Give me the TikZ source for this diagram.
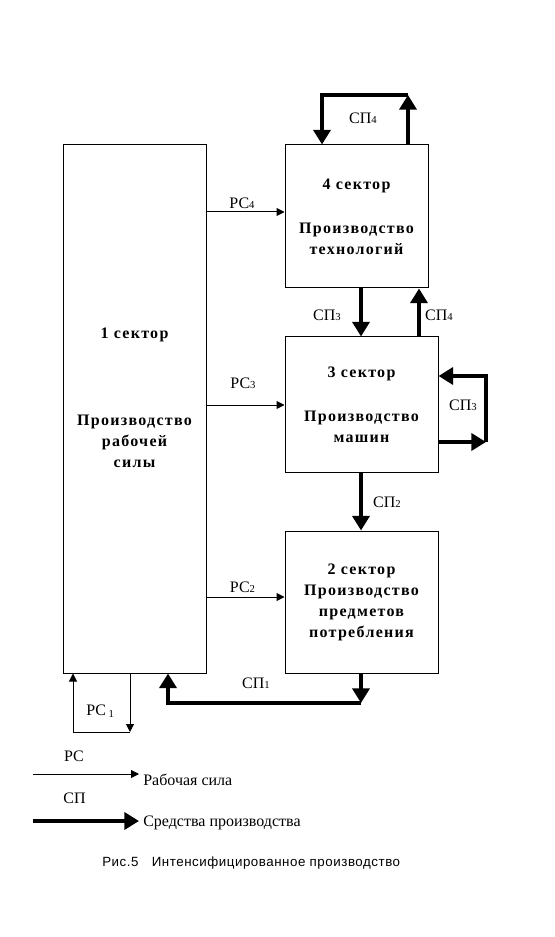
\documentclass[tikz,border=0pt]{standalone}
\usepackage{fontspec}
\setmainfont{Liberation Serif}
\newfontfamily\boldwide{Liberation Serif}[LetterSpace=8]
\newfontfamily\capfont{Liberation Sans}[LetterSpace=4]
\usetikzlibrary{arrows.meta}
\tikzstyle{sector}=[rectangle,draw=black,line width=0.75pt,inner sep=0pt,
  align=center,font=\boldwide\bfseries\fontsize{12}{15.75}\selectfont]
\tikzstyle{rc}=[line width=0.75pt,-{Triangle[length=6pt,width=6pt]}]
\tikzstyle{sp}=[line width=3pt,-{Triangle[length=11pt,width=12.75pt]}]
\tikzstyle{lbl}=[inner sep=0pt,font=\fontsize{12}{14}\selectfont]
\tikzstyle{none}=[]
\newcommand{\lo}[1]{{\fontsize{8}{8}\selectfont #1}}

\begin{document}
\begin{tikzpicture}[x=0.75pt, y=-0.75pt]
            \useasboundingbox (0, 0) rectangle (555, 937);
            \node [style=sector, minimum width=107.25pt, minimum height=396pt] (0) at (134.5, 409) {};
            \node [style=lbl, font=\boldwide\bfseries\fontsize{12}{15.75}\selectfont, align=center] (1) at (134.5, 397.5) {1 сектор\\[49.5pt]Производство\\рабочей\\силы};
            \node [style=sector, minimum width=107.25pt, minimum height=107.25pt] (2) at (356.5, 216.5) {4 сектор\\[17.25pt]Производство\\технологий};
            \node [style=sector, minimum width=114.75pt, minimum height=101.25pt] (3) at (361.5, 404.5) {3 сектор\\[17.25pt]Производство\\машин};
            \node [style=sector, minimum width=114.75pt, minimum height=106.5pt] (4) at (361.5, 602) {2 сектор\\Производство\\предметов\\потребления};
            \node [style=none] (5) at (0, 212) {};
            \node [style=none] (6) at (0, 405) {};
            \node [style=none] (7) at (0, 597) {};
            \node [style=none] (8) at (322, 95) {};
            \node [style=none] (9) at (408, 95) {};
            \node [style=none] (10) at (361, 0) {};
            \node [style=none] (11) at (419, 0) {};
            \node [style=none] (12) at (486, 442) {};
            \node [style=none] (13) at (486, 376) {};
            \node [style=none] (14) at (361, 703) {};
            \node [style=none] (15) at (168, 703) {};
            \node [style=none] (16) at (130, 732) {};
            \node [style=none] (17) at (73, 732) {};
            \node [style=none] (18) at (33, 774) {};
            \node [style=none] (19) at (139, 774) {};
            \node [style=none] (20) at (33, 821) {};
            \node [style=none] (21) at (139, 821) {};
            \draw [style=rc] (0.east |- 5.center) to (2.west |- 5.center);
            \draw [style=rc] (0.east |- 6.center) to (3.west |- 6.center);
            \draw [style=rc] (0.east |- 7.center) to (4.west |- 7.center);
            \draw [style=sp] (2.north -| 9.center) to (9.center);
            \draw [style=sp] (9.center) -- (8.center) to (2.north -| 8.center);
            \draw [style=sp] (2.south -| 10.center) to (3.north -| 10.center);
            \draw [style=sp] (3.north -| 11.center) to (2.south -| 11.center);
            \draw [style=sp] (3.east |- 12.center) to (12.center);
            \draw [style=sp] (12.center) -- (13.center) to (3.east |- 13.center);
            \draw [style=sp] (3.south -| 10.center) to (4.north -| 10.center);
            \draw [style=sp] (4.south -| 14.center) to (14.center);
            \draw [style=sp] (14.center) -- (15.center) to (0.south -| 15.center);
            \draw [style=rc] (0.south -| 16.center) to (16.center);
            \draw [style=rc] (16.center) -- (17.center) to (0.south -| 17.center);
            \draw [style=rc] (18.center) to (19.center);
            \draw [style=sp] (20.center) to (21.center);
            \node [style=lbl] (22) at (242, 203) {РС\lo{4}};
            \node [style=lbl] (23) at (243, 383.5) {РС\lo{3}};
            \node [style=lbl] (24) at (242.5, 587) {РС\lo{2}};
            \node [style=lbl] (25) at (363, 118) {СП\lo{4}};
            \node [style=lbl] (26) at (327, 315) {СП\lo{3}};
            \node [style=lbl] (27) at (439, 315) {СП\lo{4}};
            \node [style=lbl] (28) at (463, 405) {СП\lo{3}};
            \node [style=lbl] (29) at (387, 502.5) {СП\lo{2}};
            \node [style=lbl] (30) at (256, 683.5) {СП\lo{1}};
            \node [style=lbl, anchor=base west] (31) at (86, 715) {РС\,\raisebox{-1.5pt}{\lo{1}}};
            \node [style=lbl] (32) at (74, 756.5) {РС};
            \node [style=lbl] (33) at (74.5, 798.5) {СП};
            \node [style=lbl, anchor=base west] (34) at (143, 785) {Рабочая сила};
            \node [style=lbl, anchor=base west] (35) at (143, 826) {Средства производства};
            \node [style=lbl, anchor=base west, font=\capfont\fontsize{10}{12}\selectfont] (36) at (102, 866) {Рис.5\quad Интенсифицированное производство};
    \end{tikzpicture}
\end{document}
